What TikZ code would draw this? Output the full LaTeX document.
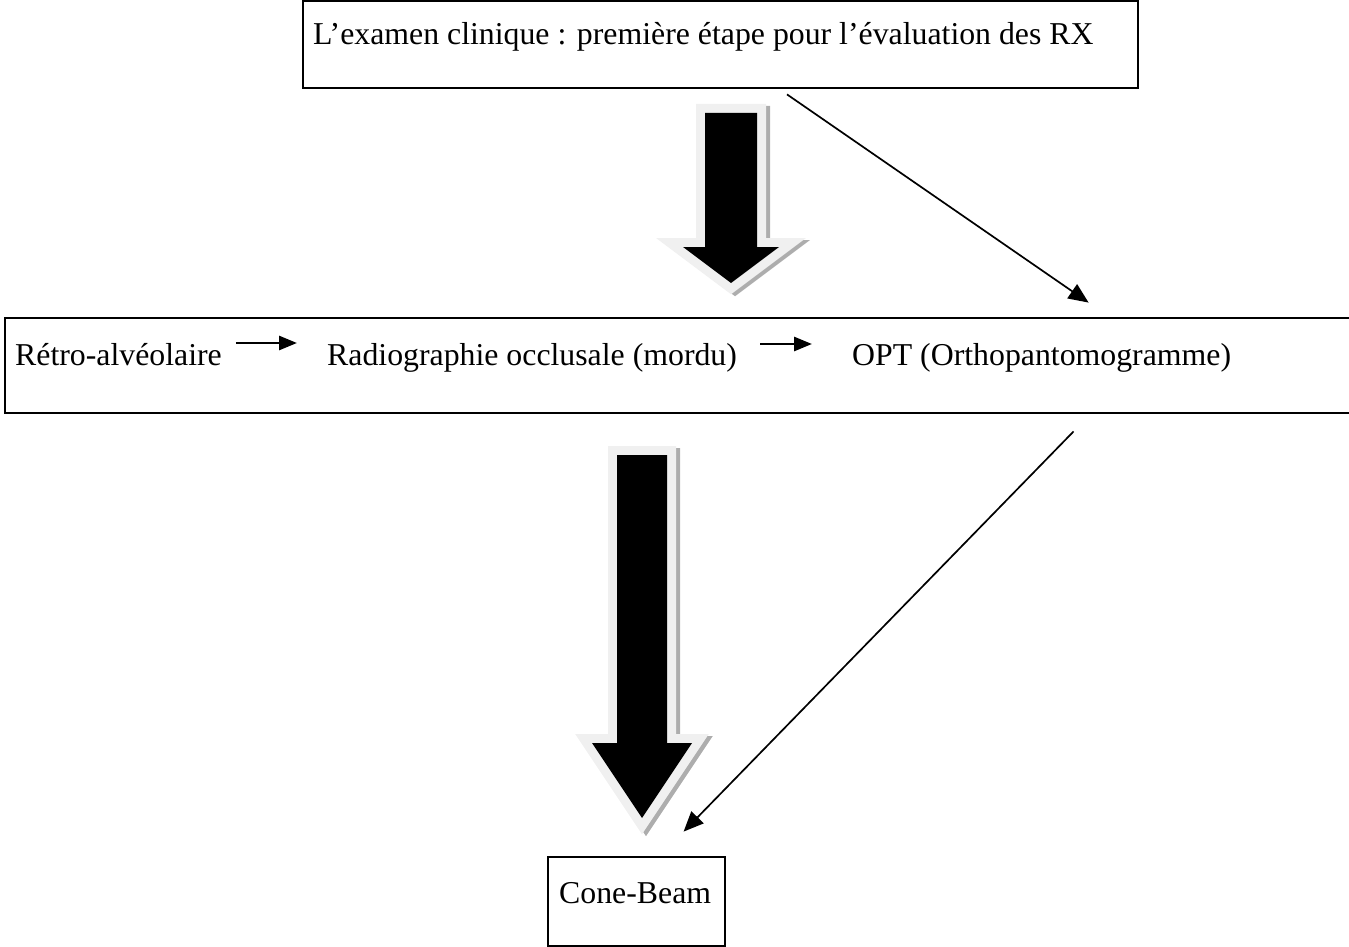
\documentclass[tikz,border=0pt]{standalone}
\usepackage{fontspec}
\setmainfont{Liberation Serif}
\usetikzlibrary{arrows.meta,calc}

\begin{document}
\begin{tikzpicture}[x=1pt,y=-1pt,
  box/.style={draw=black,line width=2.8pt,inner sep=0pt},
  txt/.style={inner sep=0pt,anchor=base west,font=\fontsize{31.8}{38}\selectfont},
  smallarr/.style={-{Triangle[length=18pt,width=14pt]},line width=2.8pt},
  thinarr/.style={-{Triangle[length=20pt,width=17pt]},line width=1.7pt},
  halo/.style={draw=black!6,fill=black!6,line width=18pt,line join=miter},
  shade/.style={draw=black!32,fill=black!32,line width=18pt,line join=miter}]
\useasboundingbox (0,0) rectangle (1349,947);
% boxes
\node[box,minimum width=835pt,minimum height=87pt] (top) at (720.5,44.5) {};
\node[box,minimum width=1355pt,minimum height=95pt] (mid) at (682.5,365.5) {};
\node[box,minimum width=177pt,minimum height=89pt] (cb) at (636.5,901.5) {};
% texts
\node[txt] (toptxt) at (313,45) {L’examen clinique : première étape pour l’évaluation des RX};
\node[txt] (retro) at (15,365) {Rétro-alvéolaire};
\node[txt] (occl) at (327,365) {Radiographie occlusale (mordu)};
\node[txt] (opt) at (852,365) {OPT (Orthopantomogramme)};
\node[txt] (cbtxt) at (559,903) {Cone-Beam};
% small arrows
\draw[smallarr] ($(retro.base east)+(14,-22)$) -- ($(occl.base west)+(-30,-22)$);
\draw[smallarr] ($(occl.base east)+(23,-21)$) -- ($(opt.base west)+(-40,-21)$);
% block arrows
\draw[shade,shift={(4,2)}] (705,113) -- (757,113) -- (757,247) -- (779,247) -- (731,283) -- (683,247) -- (705,247) -- cycle;
\draw[halo] (705,113) -- (757,113) -- (757,247) -- (779,247) -- (731,283) -- (683,247) -- (705,247) -- cycle;
\fill[black] (705,113) -- (757,113) -- (757,247) -- (779,247) -- (731,283) -- (683,247) -- (705,247) -- cycle;
\draw[shade,shift={(4,2)}] (617,455) -- (667,455) -- (667,743) -- (692,743) -- (642,818) -- (592,743) -- (617,743) -- cycle;
\draw[halo] (617,455) -- (667,455) -- (667,743) -- (692,743) -- (642,818) -- (592,743) -- (617,743) -- cycle;
\fill[black] (617,455) -- (667,455) -- (667,743) -- (692,743) -- (642,818) -- (592,743) -- (617,743) -- cycle;
% thin arrows
\draw[thinarr] ($(top.south)+(66.5,5)$) -- ($(mid.north west)+(1085,-14)$);
\draw[thinarr] ($(mid.south west)+(1070,17)$) -- ($(cb.north west)+(137,-24)$);
\end{tikzpicture}
\end{document}
